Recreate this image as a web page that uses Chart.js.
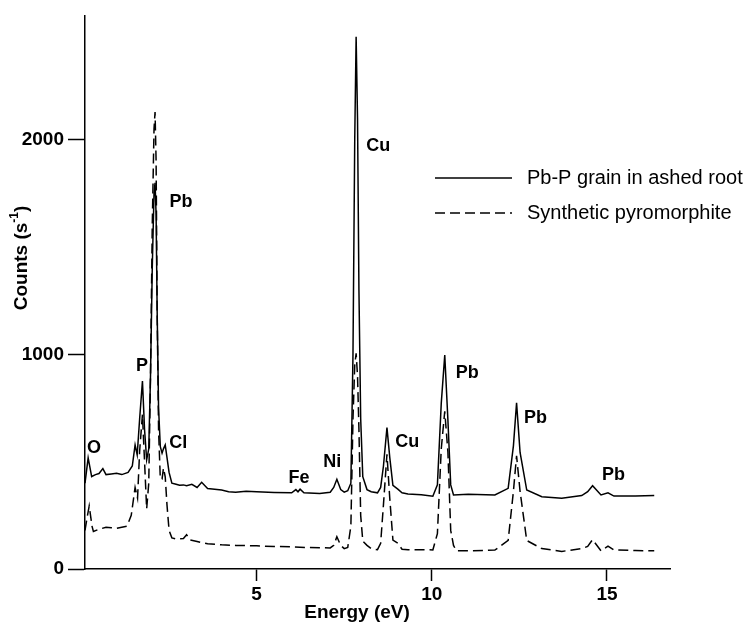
<!DOCTYPE html>
<html><head><meta charset="utf-8">
<script src="https://cdn.jsdelivr.net/npm/chart.js@4.4.1/dist/chart.umd.min.js"></script>
<style>html,body{margin:0;padding:0;background:#fff}#wrap{width:747px;height:630px}</style>
</head><body><div id="wrap"><canvas id="c" width="747" height="630"></canvas></div>
<script>
// ---- data ----
const energySolid = [0.1,0.19,0.29,0.4,0.5,0.61,0.7,0.85,1.0,1.15,1.33,1.45,1.53,1.59,1.66,1.74,1.8,1.86,1.92,1.97,2.02,2.07,2.1,2.13,2.16,2.2,2.25,2.3,2.34,2.39,2.44,2.5,2.58,2.7,2.8,2.91,3.0,3.15,3.3,3.43,3.6,3.8,4.0,4.2,4.4,4.7,5.0,5.5,6.0,6.12,6.18,6.24,6.35,6.8,7.1,7.2,7.29,7.4,7.5,7.6,7.69,7.75,7.8,7.84,7.88,7.92,7.97,8.03,8.15,8.27,8.45,8.54,8.62,8.72,8.8,8.89,9.03,9.15,9.32,9.7,10.03,10.16,10.27,10.37,10.46,10.54,10.62,11.04,11.8,12.18,12.33,12.42,12.52,12.71,13.14,13.71,14.28,14.45,14.59,14.83,15.03,15.2,15.81,16.35];
const countsSolid = [400,518,431,440,445,468,440,443,446,440,450,480,578,532,700,876,650,509,560,900,1400,1750,1800,1650,1200,750,570,540,560,578,520,450,400,395,390,392,388,395,380,404,375,372,368,360,358,362,360,357,355,370,360,372,355,352,358,380,418,370,358,365,400,1000,2000,2480,2100,1300,700,430,370,360,355,380,480,659,520,390,372,355,350,346,339,392,772,997,694,392,345,348,345,376,574,775,543,368,337,330,342,360,388,345,355,340,340,343];
const energyDashed = [0.1,0.16,0.22,0.3,0.34,0.5,0.7,0.85,1.0,1.15,1.3,1.42,1.53,1.6,1.66,1.74,1.8,1.86,1.92,1.97,2.02,2.07,2.1,2.13,2.16,2.2,2.25,2.3,2.34,2.39,2.44,2.5,2.58,2.7,2.91,3.0,3.1,3.3,3.6,4.0,4.4,5.0,5.5,6.0,6.5,7.1,7.2,7.29,7.4,7.5,7.6,7.69,7.75,7.8,7.84,7.88,7.92,7.97,8.03,8.15,8.27,8.45,8.54,8.62,8.72,8.8,8.89,9.03,9.15,9.32,10.03,10.16,10.27,10.37,10.46,10.54,10.62,10.7,11.04,11.8,12.18,12.33,12.42,12.52,12.71,13.14,13.71,14.28,14.45,14.59,14.83,15.03,15.2,15.81,16.35];
const countsDashed = [180,240,294,200,175,185,195,192,190,195,200,250,380,330,550,720,500,280,400,900,1600,2050,2130,1900,1200,650,420,420,470,430,300,180,145,140,142,160,135,128,118,113,110,108,105,103,100,98,110,150,110,95,100,200,700,950,1005,900,650,250,130,110,95,90,120,300,535,330,135,120,92,90,89,165,560,735,545,180,110,85,85,88,133,362,528,362,133,95,82,95,105,137,85,107,89,86,85];
const seriesNames = ['Pb-P grain in ashed root', 'Synthetic pyromorphite'];
const xTickValues = [5, 10, 15];
const yTickValues = [0, 1000, 2000];
const xTitle = 'Energy (eV)';
const yTitleMain = 'Counts (s';
const yTitleSup = '-1';
// element labels, anchored in data units (energy, counts)
const peakLabels = ['O','P','Pb','Cl','Fe','Ni','Cu','Cu','Pb','Pb','Pb'];
const peakLabelEnergy = [0.36,1.73,2.84,2.76,6.21,7.16,8.47,9.3,11.01,12.96,15.19];
const peakLabelCounts = [564,945,1711,587,422,500,1972,592,913,702,436];

const FONT = "'Liberation Sans', Arial, Helvetica, sans-serif";

const toPoints = (xs, ys) => xs.map((x, i) => ({x: x, y: ys[i]}));

const overlay = {
  id: 'overlay',
  afterDraw(chart) {
    const ctx = chart.ctx;
    const xs = chart.scales.x, ys = chart.scales.y;
    ctx.save();
    ctx.fillStyle = '#000';
    // peak labels
    ctx.font = 'bold 18px ' + FONT;
    ctx.textAlign = 'center';
    ctx.textBaseline = 'middle';
    peakLabels.forEach((t, i) => {
      ctx.fillText(t, xs.getPixelForValue(peakLabelEnergy[i]), ys.getPixelForValue(peakLabelCounts[i]));
    });
    // x title
    ctx.font = 'bold 19px ' + FONT;
    ctx.fillText(xTitle, 357, 613);
    // y title with superscript
    ctx.save();
    ctx.translate(22, 258);
    ctx.rotate(-Math.PI / 2);
    ctx.font = 'bold 19px ' + FONT;
    const w1 = ctx.measureText(yTitleMain).width;
    ctx.font = 'bold 12px ' + FONT;
    const w2 = ctx.measureText(yTitleSup).width;
    ctx.font = 'bold 19px ' + FONT;
    const w3 = ctx.measureText(')').width;
    const total = w1 + w2 + w3;
    let px = -total / 2;
    ctx.textAlign = 'left';
    ctx.fillText(yTitleMain, px, 0); px += w1;
    ctx.font = 'bold 12px ' + FONT;
    ctx.fillText(yTitleSup, px, -7); px += w2;
    ctx.font = 'bold 19px ' + FONT;
    ctx.fillText(')', px, 0);
    ctx.restore();
    // legend
    const ds = chart.data.datasets;
    const rows = [178, 213];
    ds.forEach((d, i) => {
      ctx.beginPath();
      ctx.setLineDash(d.borderDash || []);
      ctx.lineWidth = d.borderWidth;
      ctx.strokeStyle = d.borderColor;
      ctx.moveTo(435, rows[i]);
      ctx.lineTo(512, rows[i]);
      ctx.stroke();
      ctx.setLineDash([]);
      ctx.font = '20px ' + FONT;
      ctx.textAlign = 'left';
      ctx.textBaseline = 'middle';
      ctx.fillStyle = '#000';
      ctx.fillText(d.label, 527, rows[i]);
    });
    ctx.restore();
  }
};

new Chart(document.getElementById('c'), {
  type: 'line',
  data: {
    datasets: [
      { label: seriesNames[0], data: toPoints(energySolid, countsSolid), borderColor: '#000', borderWidth: 1.5, pointRadius: 0, tension: 0, fill: false },
      { label: seriesNames[1], data: toPoints(energyDashed, countsDashed), borderColor: '#000', borderWidth: 1.5, borderDash: [10, 5], pointRadius: 0, tension: 0, fill: false }
    ]
  },
  options: {
    responsive: false,
    animation: false,
    devicePixelRatio: 1,
    layout: { padding: { left: 0, right: 77, top: 6, bottom: 0 } },
    plugins: { legend: { display: false }, tooltip: { enabled: false } },
    scales: {
      x: {
        type: 'linear', min: 0.1, max: 16.8,
        afterBuildTicks(s) { s.ticks = xTickValues.map(v => ({value: v})); },
        afterFit(s) { s.height = 61; },
        ticks: { color: '#000', font: { family: FONT, size: 19, weight: 'bold' }, padding: 2, maxRotation: 0, callback: v => String(v) },
        grid: { drawOnChartArea: false, drawTicks: true, tickLength: 12, tickColor: '#000', tickWidth: 1.5 },
        border: { display: true, color: '#000', width: 1.5 }
      },
      y: {
        type: 'linear', min: 0, max: 2580,
        afterBuildTicks(s) { s.ticks = yTickValues.map(v => ({value: v})); },
        afterFit(s) { s.width = 85; },
        ticks: { color: '#000', font: { family: FONT, size: 19, weight: 'bold' }, padding: 4, callback: v => String(v) },
        grid: { drawOnChartArea: false, drawTicks: true, tickLength: 17, tickColor: '#000', tickWidth: 1.5 },
        border: { display: true, color: '#000', width: 1.5 }
      }
    }
  },
  plugins: [overlay]
});
</script>
</body></html>
